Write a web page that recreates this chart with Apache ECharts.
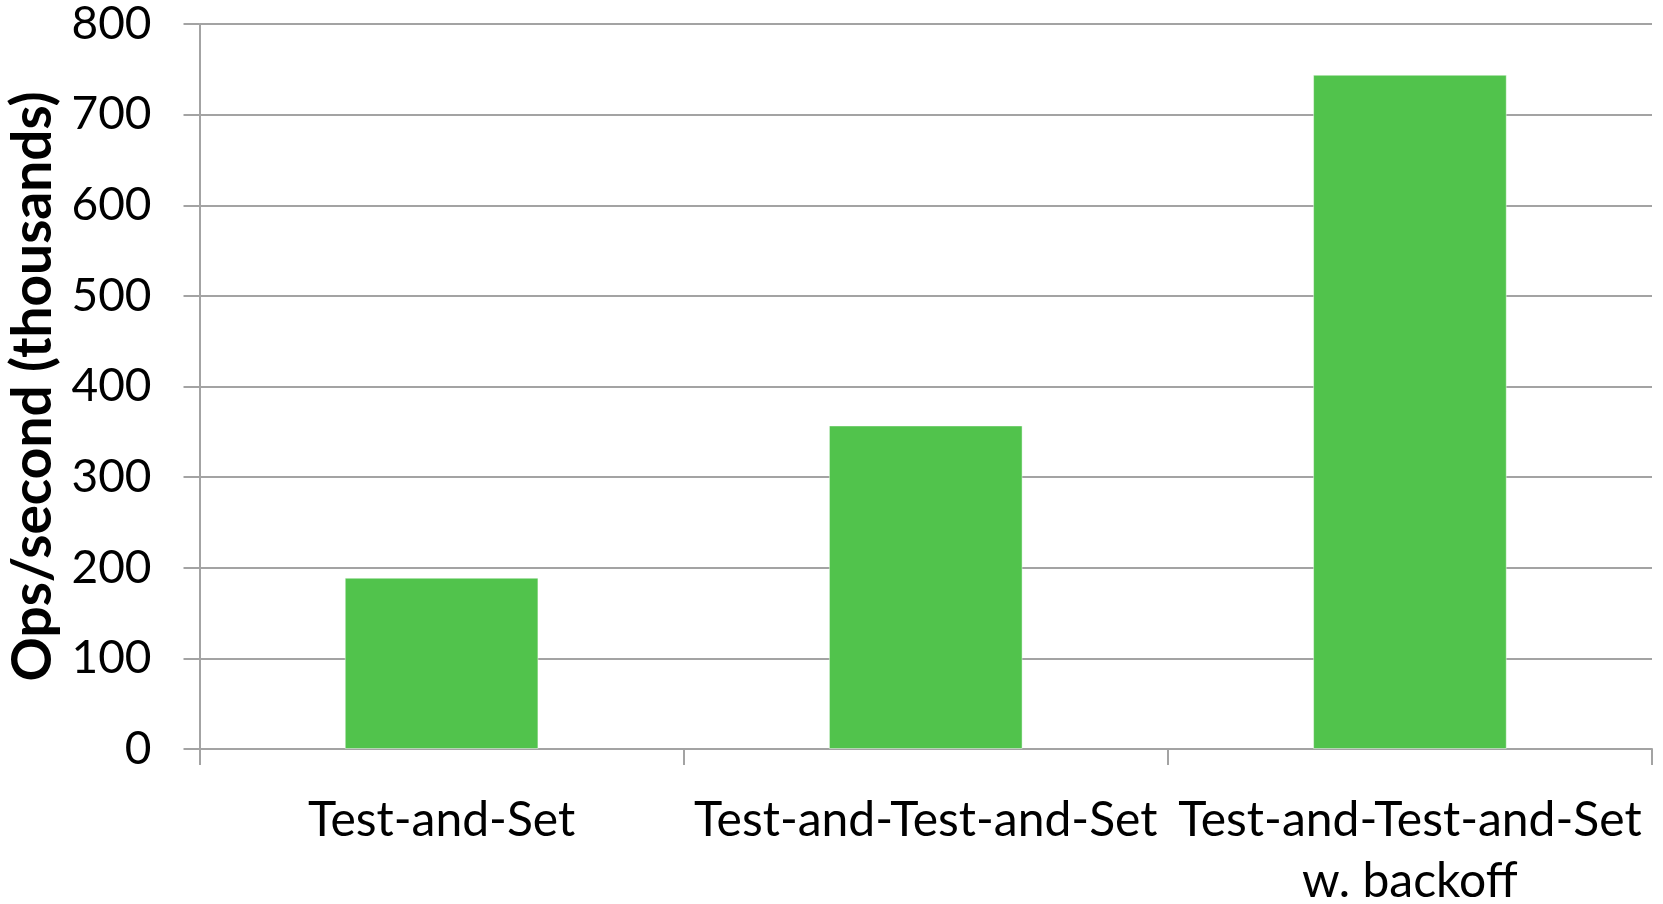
<!DOCTYPE html>
<html>
<head>
<meta charset="utf-8">
<title>Ops/second by lock type</title>
<script src="https://cdn.jsdelivr.net/npm/echarts@6/dist/echarts.min.js"></script>
<style>
  html, body { margin: 0; padding: 0; background: #ffffff; }
  #chart { width: 1663px; height: 904px; }
</style>
</head>
<body>
<div id="chart"></div>
<script>
// Lock implementations compared
const categories = ['Test-and-Set', 'Test-and-Test-and-Set', 'Test-and-Test-and-Set\nw. backoff'];
// Throughput, thousands of operations per second
const opsPerSecond = [189, 357, 744];
// Value axis range
const yMin = 0;
const yMax = 800;
const yStep = 100;

const FONT = 'Lato, "Open Sans", "Noto Sans", sans-serif';
const GRAY = '#a3a3a3';

const chart = echarts.init(document.getElementById('chart'), null, { renderer: 'canvas' });

chart.setOption({
  backgroundColor: '#ffffff',
  animation: false,
  grid: {
    left: 199.5, right: 11, top: 24, bottom: 155,
    containLabel: false,
    outerBoundsMode: 'none'
  },
  xAxis: {
    type: 'category',
    data: categories,
    boundaryGap: true,
    axisLine: { show: true, lineStyle: { color: GRAY, width: 2 } },
    axisTick: { show: true, length: 16, inside: false, lineStyle: { color: GRAY, width: 2 } },
    axisLabel: {
      interval: 0,
      margin: 41,
      color: '#000000',
      fontFamily: FONT,
      fontSize: 48,
      lineHeight: 61,
      align: 'center'
    },
    splitLine: { show: false }
  },
  yAxis: {
    type: 'value',
    min: yMin,
    max: yMax,
    interval: yStep,
    name: 'Ops/second (thousands)',
    nameLocation: 'middle',
    nameGap: 126,
    nameTextStyle: {
      color: '#000000',
      fontFamily: FONT,
      fontWeight: 'bold',
      fontSize: 55
    },
    axisLine: { show: true, lineStyle: { color: GRAY, width: 2 } },
    axisTick: { show: true, length: 16, inside: false, lineStyle: { color: GRAY, width: 2 } },
    axisLabel: {
      margin: 48,
      color: '#000000',
      fontFamily: FONT,
      fontSize: 46
    },
    splitLine: { show: true, lineStyle: { color: GRAY, width: 2 } }
  },
  series: [{
    type: 'bar',
    data: opsPerSecond,
    barWidth: '40%',
    itemStyle: {
      color: '#51c34c',
      borderColor: 'rgba(255,255,255,0.45)',
      borderWidth: 1
    }
  }]
});
</script>
</body>
</html>
